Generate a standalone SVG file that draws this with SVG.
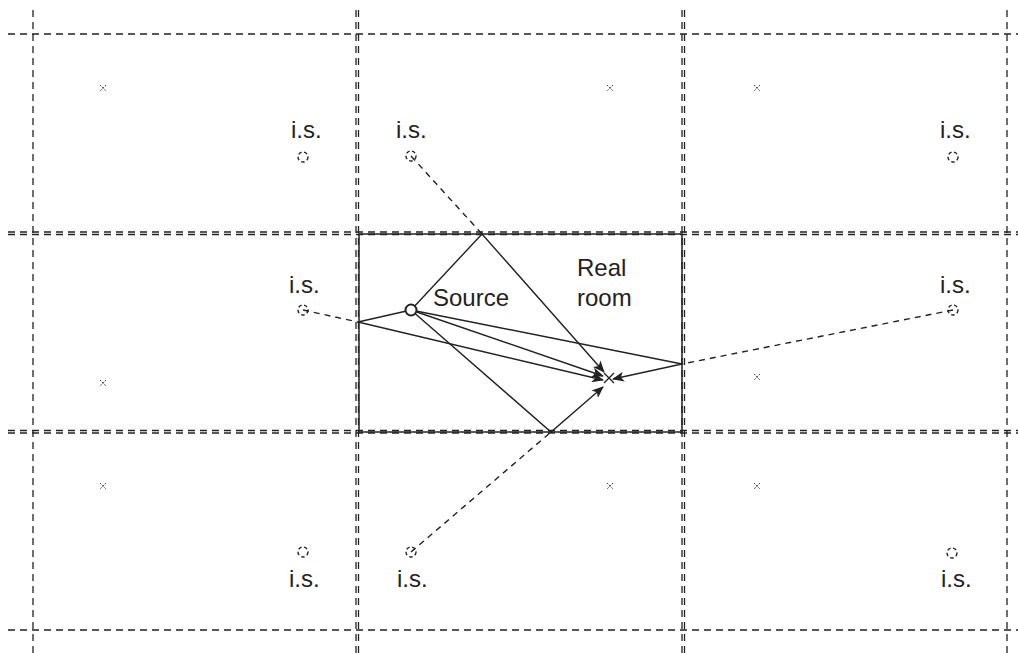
<svg xmlns="http://www.w3.org/2000/svg" width="1018" height="653" viewBox="0 0 1018 653">
<defs>
<style>
.grid{stroke:#222;stroke-width:1.3;stroke-dasharray:7 5;fill:none}
.room{stroke:#222;stroke-width:1.5;fill:none}
.ray{stroke:#222;stroke-width:1.4;fill:none}
.dray{stroke:#222;stroke-width:1.4;stroke-dasharray:6 5;fill:none}
.img{stroke:#222;stroke-width:1.4;stroke-dasharray:3.5 2.5;fill:none}
.rx{stroke:#444;stroke-width:1;stroke-dasharray:1.5 1}
.lbl{font-family:"Liberation Sans",Arial,sans-serif;font-size:24px;fill:#222}
</style>
<marker id="ah" viewBox="0 0 12 10" refX="11" refY="5" markerWidth="12" markerHeight="10" markerUnits="userSpaceOnUse" orient="auto">
<path d="M0,0 L12,5 L0,10 L3,5 Z" fill="#222"/>
</marker>
</defs>
<rect width="1018" height="653" fill="#fff"/>
<g id="grid">
<line class="grid" x1="8" y1="34" x2="1018" y2="34"/>
<line class="grid" x1="8" y1="232" x2="1018" y2="232"/>
<line class="grid" x1="8" y1="234.5" x2="1018" y2="234.5"/>
<line class="grid" x1="8" y1="430.5" x2="1018" y2="430.5"/>
<line class="grid" x1="8" y1="433" x2="1018" y2="433"/>
<line class="grid" x1="8" y1="630" x2="1018" y2="630"/>
<line class="grid" x1="33" y1="10" x2="33" y2="653"/>
<line class="grid" x1="356" y1="10" x2="356" y2="653"/>
<line class="grid" x1="358.5" y1="10" x2="358.5" y2="653"/>
<line class="grid" x1="682" y1="10" x2="682" y2="653"/>
<line class="grid" x1="684.5" y1="10" x2="684.5" y2="653"/>
<line class="grid" x1="1007" y1="10" x2="1007" y2="653"/>
</g>
<g id="real-room">
<rect class="room" x="359" y="234" width="323" height="198"/>
<text class="lbl" x="577" y="276">Real</text>
<text class="lbl" x="577" y="306">room</text>
</g>
<g id="connectors">
<line class="dray" x1="411" y1="156" x2="482" y2="234"/>
<line class="dray" x1="303" y1="310" x2="358" y2="322"/>
<line class="dray" x1="953" y1="310" x2="682" y2="364"/>
<line class="dray" x1="411" y1="552" x2="551" y2="432"/>
<polyline class="ray" points="411,310 482,234 604,372" marker-end="url(#ah)"/>
<polyline class="ray" points="411,310 358,322 603,380" marker-end="url(#ah)"/>
<line class="ray" x1="411" y1="310" x2="603" y2="376" marker-end="url(#ah)"/>
<polyline class="ray" points="411,310 682,364 613,379" marker-end="url(#ah)"/>
<polyline class="ray" points="411,310 551,432 603,387" marker-end="url(#ah)"/>
</g>
<g id="source">
<circle cx="411" cy="310" r="5.5" fill="#fff" stroke="#222" stroke-width="2"/>
<text class="lbl" x="433" y="306">Source</text>
</g>
<g id="receiver">
<path d="M604,373 L614,383 M614,373 L604,383" stroke="#222" stroke-width="1.4"/>
</g>
<g id="image-sources">
<g id="is-tl"><circle class="img" cx="303" cy="157" r="5"/><text class="lbl" x="291" y="138">i.s.</text></g>
<g id="is-tm"><circle class="img" cx="411" cy="156" r="5"/><text class="lbl" x="396" y="138">i.s.</text></g>
<g id="is-tr"><circle class="img" cx="953" cy="157" r="5"/><text class="lbl" x="940" y="138">i.s.</text></g>
<g id="is-ml"><circle class="img" cx="303" cy="310" r="5"/><text class="lbl" x="289" y="293">i.s.</text></g>
<g id="is-mr"><circle class="img" cx="953" cy="310" r="5"/><text class="lbl" x="940" y="293">i.s.</text></g>
<g id="is-bl"><circle class="img" cx="303" cy="552" r="5"/><text class="lbl" x="289" y="587">i.s.</text></g>
<g id="is-bm"><circle class="img" cx="411" cy="552" r="5"/><text class="lbl" x="397" y="587">i.s.</text></g>
<g id="is-br"><circle class="img" cx="952" cy="553" r="5"/><text class="lbl" x="941" y="587">i.s.</text></g>
</g>
<g id="image-receivers">
<path class="rx" d="M100,85 L106,91 M106,85 L100,91"/>
<path class="rx" d="M607,85 L613,91 M613,85 L607,91"/>
<path class="rx" d="M754,85 L760,91 M760,85 L754,91"/>
<path class="rx" d="M100,380 L106,386 M106,380 L100,386"/>
<path class="rx" d="M754,374 L760,380 M760,374 L754,380"/>
<path class="rx" d="M100,483 L106,489 M106,483 L100,489"/>
<path class="rx" d="M607,483 L613,489 M613,483 L607,489"/>
<path class="rx" d="M754,483 L760,489 M760,483 L754,489"/>
</g>
</svg>
